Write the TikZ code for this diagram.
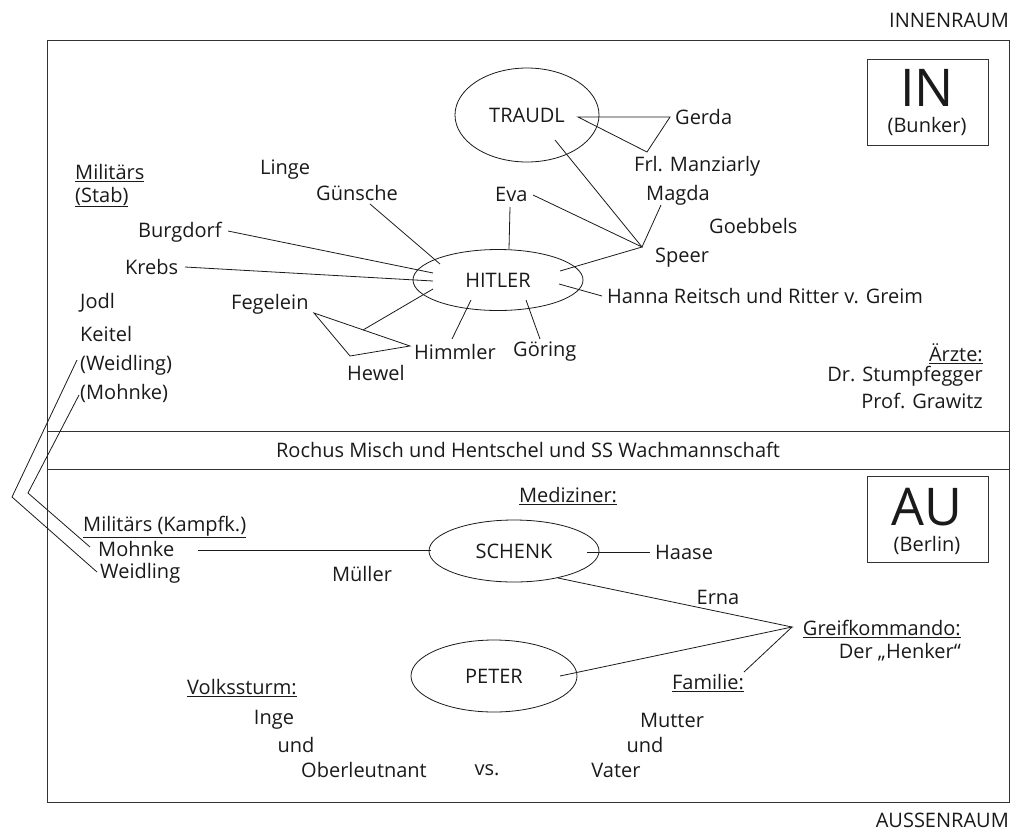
\documentclass[tikz,border=0pt]{standalone}
\usepackage{fontspec}
\setmainfont{Open Sans}
\usetikzlibrary{shapes.geometric}
\definecolor{ink}{HTML}{1A1A1A}
\definecolor{frame}{HTML}{333333}
\tikzset{
  lbl/.style={inner sep=0pt, text=ink, font=\fontsize{20}{23}\selectfont},
  oval/.style={ellipse, draw=ink, line width=0.8pt, inner sep=0pt, text=ink, font=\fontsize{20}{23}\selectfont},
  conn/.style={draw=ink, line width=0.8pt},
  bigbox/.style={draw=frame, line width=1pt, minimum width=121pt, minimum height=86pt, inner sep=0pt},
  bigtxt/.style={inner sep=0pt, text=ink, text depth=0pt, font=\fontsize{52}{56}\selectfont},
}
\begin{document}
\begin{tikzpicture}[x=1pt,y=-1pt]
\useasboundingbox (0,0) rectangle (1022,833);
% frames
\draw[draw=frame, line width=1pt] (47,40) rectangle (1009,802);
\draw[draw=frame, line width=1pt] (47,431) -- (1009,431);
\draw[draw=frame, line width=1pt] (47,469) -- (1009,469);
\node[lbl, anchor=east] (innen) at (1009,20) {INNENRAUM};
\node[lbl, anchor=east] (aussen) at (1009,820) {AUSSENRAUM};
\node[lbl] (rochus) at (528,450) {Rochus Misch und Hentschel und SS Wachmannschaft};
% IN / AU boxes
\node[bigbox] (inbox) at (927.5,102) {};
\node[bigtxt, anchor=base] (in) at (927,106) {IN};
\node[lbl] (bunker) at (927,126) {(Bunker)};
\node[bigbox] (aubox) at (927.5,519.5) {};
\node[bigtxt, anchor=base] (au) at (927,525) {AU};
\node[lbl] (berlin) at (927,545) {(Berlin)};
% ellipses
\node[oval, minimum width=144pt, minimum height=94pt] (traudl) at (527,115) {TRAUDL};
\node[oval, minimum width=170pt, minimum height=61pt] (hitler) at (498,280) {HITLER};
\node[oval, minimum width=170pt, minimum height=62pt] (schenk) at (514,551) {SCHENK};
\node[oval, minimum width=166pt, minimum height=72pt] (peter) at (494,676) {PETER};
% upper labels
\node[lbl, anchor=west] (gerda) at (675,117) {Gerda};
\node[lbl, anchor=west] (manz) at (634,166) {Frl. Manziarly};
\node[lbl, anchor=west] (magda) at (646,195) {Magda};
\node[lbl, anchor=west] (goebbels) at (709,226) {Goebbels};
\node[lbl, anchor=west] (speer) at (655,258) {Speer};
\node[lbl, anchor=west] (eva) at (495,194) {Eva};
\node[lbl, anchor=west] (linge) at (260,170) {Linge};
\node[lbl, anchor=west] (guensche) at (316,193) {Günsche};
\node[lbl, anchor=west] (burgdorf) at (138,232) {Burgdorf};
\node[lbl, anchor=west] (krebs) at (125,267) {Krebs};
\node[lbl, anchor=west] (fegelein) at (231,304) {Fegelein};
\node[lbl, anchor=west] (hewel) at (347,373) {Hewel};
\node[lbl, anchor=west] (himmler) at (414,352) {Himmler};
\node[lbl, anchor=west] (goering) at (513,352) {Göring};
\node[lbl, anchor=west] (hanna) at (607,296) {Hanna Reitsch und Ritter v. Greim};
\node[lbl, anchor=west] (mil) at (75,173) {\underline{Militärs}};
\node[lbl, anchor=west] (stab) at (75,197) {\underline{(Stab)}};
\node[lbl, anchor=west] (jodl) at (80,303) {Jodl};
\node[lbl, anchor=west] (keitel) at (80,334) {Keitel};
\node[lbl, anchor=west] (weid1) at (80,365) {(Weidling)};
\node[lbl, anchor=west] (mohn1) at (80,393) {(Mohnke)};
\node[lbl, anchor=east] (aerzte) at (983,354) {\underline{Ärzte:}};
\node[lbl, anchor=east] (stumpf) at (983,376) {Dr. Stumpfegger};
\node[lbl, anchor=east] (grawitz) at (983,401) {Prof. Grawitz};
% lower labels
\node[lbl] (mediziner) at (568,496) {\underline{Mediziner:}};
\node[lbl, anchor=west] (milk) at (83,527) {\underline{Militärs (Kampfk.)}};
\node[lbl, anchor=west] (mohn2) at (98,549) {Mohnke};
\node[lbl, anchor=west] (weid2) at (100,573) {Weidling};
\node[lbl] (mueller) at (362,574) {Müller};
\node[lbl, anchor=west] (haase) at (655,552) {Haase};
\node[lbl] (erna) at (718,597) {Erna};
\node[lbl, anchor=east] (greif) at (961,629) {\underline{Greifkommando:}};
\node[lbl, anchor=east] (henker) at (961,652) {Der „Henker“};
\node[lbl] (familie) at (708,683) {\underline{Familie:}};
\node[lbl] (volk) at (242,688) {\underline{Volkssturm:}};
\node[lbl] (inge) at (274,720) {Inge};
\node[lbl] (und1) at (296,745) {und};
\node[lbl] (oberl) at (364,770) {Oberleutnant};
\node[lbl] (vs) at (487,770) {vs.};
\node[lbl] (mutter) at (672,720) {Mutter};
\node[lbl] (und2) at (645,745) {und};
\node[lbl] (vater) at (616,770) {Vater};
% connector points
\coordinate (tA) at (578,117);
\coordinate (tG) at (670,117);
\coordinate (tM) at (647,152);
\coordinate (hub) at (642,247);
\coordinate (hubT) at (555,140);
\coordinate (hubE) at (533,195);
\coordinate (hubM) at (661,205);
\coordinate (hubH) at (560,271);
\coordinate (evaA) at (510,207);
\coordinate (evaB) at (509,249);
\coordinate (guA) at (370,204);
\coordinate (guB) at (440,264);
\coordinate (buA) at (228,231);
\coordinate (buB) at (433,273);
\coordinate (krA) at (185,267);
\coordinate (krB) at (433,281);
\coordinate (fgA) at (433,289);
\coordinate (fgB) at (363,330);
\coordinate (triF) at (314,313);
\coordinate (triH) at (410,346);
\coordinate (triW) at (350,356);
\coordinate (hiA) at (452,339);
\coordinate (hiB) at (471,300);
\coordinate (goA) at (540,339);
\coordinate (goB) at (526,300);
\coordinate (haA) at (559,284);
\coordinate (haB) at (602,296);
\coordinate (brO1) at (77,360);
\coordinate (brO2) at (12,497);
\coordinate (brO3) at (97,572);
\coordinate (brI1) at (79,395);
\coordinate (brI2) at (28,493);
\coordinate (brI3) at (90,547);
\coordinate (moA) at (198,550);
\coordinate (moB) at (431,550);
\coordinate (hsA) at (587,552);
\coordinate (hsB) at (650,552);
\coordinate (grHub) at (792,627);
\coordinate (scP) at (558,578);
\coordinate (peP) at (560,676);
\coordinate (faP) at (744,672);
% connectors
\draw[conn] (tA) -- (tG) -- (tM) -- cycle;
\draw[conn] (hubT) -- (hub) -- (hubM);
\draw[conn] (hubE) -- (hub) -- (hubH);
\draw[conn] (evaA) -- (evaB);
\draw[conn] (guA) -- (guB);
\draw[conn] (buA) -- (buB);
\draw[conn] (krA) -- (krB);
\draw[conn] (fgA) -- (fgB);
\draw[conn] (triF) -- (triH) -- (triW) -- cycle;
\draw[conn] (hiA) -- (hiB);
\draw[conn] (goA) -- (goB);
\draw[conn] (haA) -- (haB);
\draw[conn] (brO1) -- (brO2) -- (brO3);
\draw[conn] (brI1) -- (brI2) -- (brI3);
\draw[conn] (moA) -- (moB);
\draw[conn] (hsA) -- (hsB);
\draw[conn] (scP) -- (grHub) -- (peP);
\draw[conn] (faP) -- (grHub);
\end{tikzpicture}
\end{document}
